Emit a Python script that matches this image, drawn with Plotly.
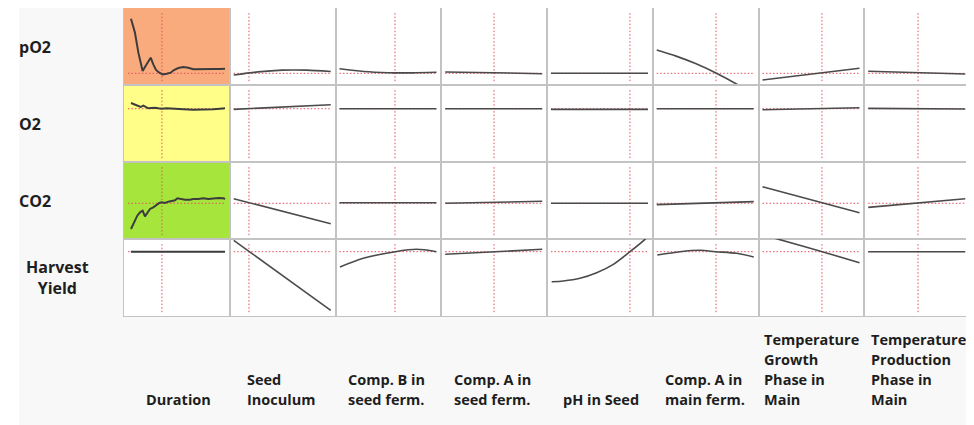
import plotly.graph_objects as go
from plotly.subplots import make_subplots

# ---------------- data ----------------
responses = ["pO2", "O2", "CO2", "Harvest<br>Yield"]
factors = ["Duration", "Seed<br>Inoculum", "Comp. B in<br>seed ferm.", "Comp. A in<br>seed ferm.",
           "pH in Seed", "Comp. A in<br>main ferm.", "Temperature<br>Growth<br>Phase in<br>Main",
           "Temperature<br>Production<br>Phase in<br>Main"]

# current factor settings (normalised 0..1) and current predicted response (row units 0..100)
factor_current = [0.35, 0.157, 0.572, 0.503, 0.814, 0.611, 0.613, 0.513]
response_current = [15.2, 69.2, 46.4, 83.5]

# profile curves: one (x, y) pair per factor, per response
profile_pO2 = [
    ([0.031, 0.072, 0.107, 0.151, 0.192, 0.234, 0.261, 0.289, 0.323, 0.357, 0.399, 0.44, 0.474,
      0.519, 0.57, 0.622, 0.673, 0.742, 0.811, 0.88, 0.948, 1.0],
     [86.1, 67.9, 42, 18.2, 26.8, 35.5, 26.8, 19.5, 16, 13.8, 14.7, 16, 19.5,
      22.1, 23.4, 22.5, 20.4, 20.8, 21.2, 20.8, 20.8, 21.2]),
    ([0, 0.25, 0.5, 0.75, 1.0], [13, 17, 19.3, 19.3, 17.5]),
    ([0, 0.25, 0.5, 0.75, 1.0], [21, 17.5, 16, 15.8, 16.5]),
    ([0, 0.5, 1.0], [16.9, 16, 14.7]),
    ([0, 1.0], [15.2, 15.2]),
    ([0, 0.2, 0.4, 0.61, 0.84, 1.0], [45.5, 37.5, 27.8, 15.6, 0, -12.3]),
    ([0, 1.0], [6.5, 21.7]),
    ([0, 1.0], [17.8, 14.3]),
]
profile_O2 = [
    ([0.031, 0.072, 0.107, 0.131, 0.158, 0.186, 0.21, 0.244, 0.278, 0.313, 0.347, 0.399, 0.467,
      0.57, 0.673, 0.776, 0.88, 0.948, 1.0],
     [76.6, 74.4, 72.3, 71.4, 73.1, 71.4, 69.7, 70.1, 70.5, 69.7, 69.2, 69.7, 68.8,
      68.4, 67.9, 67.9, 68.4, 69.2, 69.7]),
    ([0, 1.0], [68.4, 74.4]),
    ([0, 1.0], [69.2, 69.2]),
    ([0, 1.0], [69.2, 69.2]),
    ([0, 1.0], [68.4, 68.4]),
    ([0, 1.0], [69.2, 69.2]),
    ([0, 1.0], [67.9, 70.5]),
    ([0, 1.0], [69.7, 68.8]),
]
profile_CO2 = [
    ([0.031, 0.062, 0.096, 0.124, 0.151, 0.175, 0.199, 0.227, 0.261, 0.296, 0.323, 0.347, 0.381,
      0.416, 0.45, 0.485, 0.509, 0.536, 0.588, 0.639, 0.673, 0.725, 0.776, 0.828, 0.88, 0.931,
      0.983, 1.0],
     [13, 21.6, 30.3, 34.6, 36.8, 29.4, 34.6, 39, 41.1, 44.2, 46.8, 47.6, 46.8,
      48.5, 49.4, 50.2, 52.8, 51.9, 51.1, 51.1, 51.9, 51.9, 52.8, 51.9, 52.8, 53.2,
      52.8, 51.9]),
    ([0, 1.0], [52.3, 19.9]),
    ([0, 1.0], [47.0, 47.0]),
    ([0, 1.0], [46.4, 49.0]),
    ([0, 1.0], [46.4, 46.4]),
    ([0, 1.0], [44.6, 48.5]),
    ([0, 1.0], [67.9, 34.2]),
    ([0, 1.0], [41.1, 52.3]),
]
profile_yield = [
    ([0.03, 1.0], [83.5, 83.5]),
    ([0, 1.0], [98.3, 7.4]),
    ([0.005, 0.245, 0.575, 0.796, 1.0], [63.6, 74.9, 83.5, 86.6, 83.5]),
    ([0, 1.0], [80.1, 86.6]),
    ([0.007, 0.127, 0.299, 0.471, 0.643, 0.814, 0.969, 1.0], [44.5, 45.5, 49, 56.2, 67.1, 83.5, 99.6, 104]),
    ([0.006, 0.24, 0.446, 0.607, 0.823, 1.0], [79.2, 83.5, 85.3, 83.5, 81.4, 76.6]),
    ([0, 0.18, 0.616, 1.0], [105.7, 99.1, 83.5, 69.2]),
    ([0, 1.0], [83.5, 83.5]),
]
profiles = [profile_pO2, profile_O2, profile_CO2, profile_yield]

# cells highlighted by colour (row, col) -> colour
highlight_cells = {(0, 0): "#F9AB7D", (1, 0): "#FEFE88", (2, 0): "#A6E63C"}

# ---------------- layout constants ----------------
OFFX, OFFY = 8, 8            # page body margin
W, H = 974 - OFFX, 425 - OFFY
ML, MR, MT = 116, 4, 0
PW = W - ML - MR             # 846
PH = 308
MB = H - MT - PH
label_left_px = [145, 246, 346.7, 452.7, 561.7, 664, 763.3, 870]
FONT = "Open Sans"
TXT = "#1e1e1e"
CURVE = "#4b4b4b"
REF = "#E2505C"
BORDER = "#c3c3c3"


def px_to_paper_x(px):
    return (px - OFFX - ML) / PW


def py_to_paper_y(py):
    return (OFFY + MT + PH - py) / PH


nrows, ncols = len(responses), len(factors)
fig = make_subplots(rows=nrows, cols=ncols, horizontal_spacing=0, vertical_spacing=0)

for r in range(nrows):
    for c in range(ncols):
        row, col = r + 1, c + 1
        if (r, c) in highlight_cells:
            fig.add_shape(type="rect", xref="x domain", yref="y domain", x0=0, x1=1, y0=0, y1=1,
                          fillcolor=highlight_cells[(r, c)], line_width=0, layer="below",
                          row=row, col=col)
        fx = factor_current[c]
        ry = response_current[r]
        # reference cross-hair
        fig.add_trace(go.Scatter(x=[fx, fx], y=[5, 94], mode="lines",
                                 line=dict(color=REF, width=1, dash="1.5px,2px"),
                                 hoverinfo="skip", showlegend=False), row=row, col=col)
        fig.add_trace(go.Scatter(x=[0, 1], y=[ry, ry], mode="lines",
                                 line=dict(color=REF, width=1, dash="1.5px,2px"),
                                 hoverinfo="skip", showlegend=False), row=row, col=col)
        xs, ys = profiles[r][c]
        fig.add_trace(go.Scatter(x=xs, y=ys, mode="lines",
                                 line=dict(color=CURVE if c else "#3c3c3c", width=1.6 if c else 2,
                                           shape="linear" if c == 0 else "spline", smoothing=0.8),
                                 showlegend=False), row=row, col=col)

fig.update_xaxes(range=[-0.041, 1.049], showticklabels=False, ticks="", showgrid=False,
                 zeroline=False, showline=True, mirror=True, linecolor=BORDER, linewidth=1,
                 fixedrange=True)
fig.update_yaxes(range=[0, 100], showticklabels=False, ticks="", showgrid=False,
                 zeroline=False, showline=True, mirror=True, linecolor=BORDER, linewidth=1,
                 fixedrange=True)

# white strip at far left of page
fig.add_shape(type="rect", xref="paper", yref="paper", x0=px_to_paper_x(OFFX), x1=px_to_paper_x(19),
              y0=-0.5, y1=1.1, fillcolor="white", line_width=0, layer="below")

# row labels
for r, name in enumerate(responses):
    yc = 1 - (r + 0.5) / nrows
    if "<br>" in name:
        fig.add_annotation(x=px_to_paper_x(57), y=yc, xref="paper", yref="paper",
                           text="<b>" + name + "</b>",
                           showarrow=False, xanchor="center", yanchor="middle", align="center",
                           font=dict(family=FONT, size=16, color=TXT))
    else:
        fig.add_annotation(x=px_to_paper_x(17), y=yc, xref="paper", yref="paper",
                           text="<b>" + name + "</b>",
                           showarrow=False, xanchor="left", yanchor="middle", align="left",
                           font=dict(family=FONT, size=16, color=TXT))

# column labels, bottom aligned, one annotation per line
for c, name in enumerate(factors):
    lines = name.split("<br>")
    n = len(lines)
    for k, line in enumerate(lines):
        py = 399 - 20 * (n - 1 - k)
        fig.add_annotation(x=px_to_paper_x(label_left_px[c] - 1), y=py_to_paper_y(py),
                           xref="paper", yref="paper", text="<b>" + line + "</b>",
                           showarrow=False, xanchor="left", yanchor="middle", align="left",
                           font=dict(family=FONT, size=14.5, color=TXT))

fig.update_layout(width=W, height=H, margin=dict(l=ML, r=MR, t=MT, b=MB),
                  paper_bgcolor="#f8f8f8", plot_bgcolor="white", showlegend=False)

fig.write_html("out.html")
